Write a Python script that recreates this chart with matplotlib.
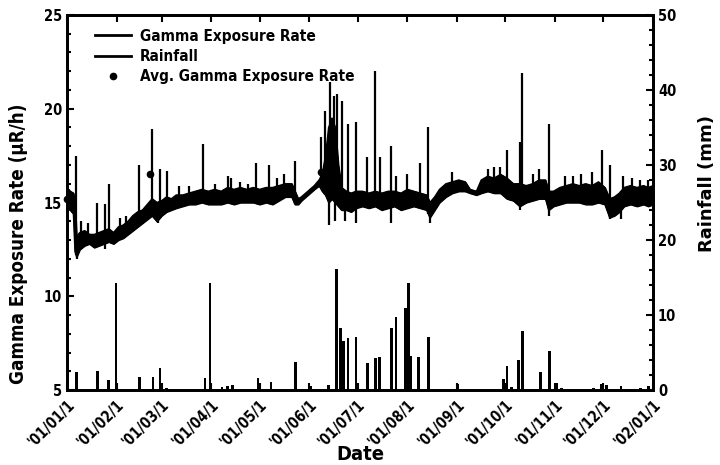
import matplotlib
matplotlib.use('Agg')
import matplotlib.pyplot as plt
from matplotlib.lines import Line2D
from matplotlib.ticker import MultipleLocator
import numpy as np
import pandas as pd

plt.rcParams['font.family'] = ['DejaVu Sans']
plt.rcParams['font.stretch'] = 'condensed'
plt.rcParams['font.weight'] = 'bold'

# gamma band (day of 2001, low edge, high edge) in uR/h
gamma_day = [0, 2, 4, 5, 6, 8, 11, 14, 17, 20, 23, 26, 29, 32, 35, 38, 41, 44, 47, 50,
             53, 56, 59, 62, 65, 68, 72, 76, 80, 84, 88, 92, 96, 100, 104, 108, 112, 116,
             120, 124, 128, 132, 136, 140, 142, 144, 146, 150, 154, 157, 159, 161, 163,
             165, 167, 169, 171, 174, 177, 180, 184, 188, 192, 196, 200, 204, 208, 212,
             216, 220, 224, 226, 229, 232, 236, 240, 244, 248, 251, 255, 258, 262, 266,
             270, 274, 278, 282, 286, 290, 294, 298, 300, 303, 307, 311, 315, 319, 323,
             327, 331, 335, 338, 341, 344, 347, 351, 355, 359, 362, 365]
gamma_lo = [14.7, 14.6, 14.4, 12.4, 12.1, 12.5, 12.7, 12.8, 12.6, 12.7, 12.8, 12.9, 12.8,
            13.0, 13.1, 13.3, 13.5, 13.7, 13.9, 14.1, 14.3, 14.0, 14.3, 14.5, 14.6, 14.7,
            14.8, 14.9, 14.9, 15.0, 14.9, 14.9, 14.9, 15.0, 14.9, 15.0, 15.0, 15.0, 14.9,
            15.0, 14.9, 15.1, 15.3, 15.3, 14.9, 14.9, 15.1, 15.4, 15.7, 15.9, 15.6, 15.4,
            15.0, 15.2, 15.0, 14.8, 14.6, 14.6, 14.5, 14.7, 14.8, 14.7, 14.8, 14.6, 14.7,
            14.8, 14.6, 14.7, 14.8, 14.7, 14.6, 14.2, 14.6, 15.0, 15.3, 15.5, 15.6, 15.6,
            15.5, 15.4, 15.5, 15.6, 15.5, 15.5, 15.2, 15.1, 14.8, 15.0, 15.1, 15.2, 15.2,
            14.6, 14.8, 14.9, 15.0, 15.0, 15.0, 14.9, 14.9, 15.0, 14.9, 14.2, 14.3, 14.5,
            14.8, 14.9, 14.8, 14.9, 14.8, 14.9]
gamma_hi = [15.8, 15.6, 15.5, 15.0, 13.2, 13.4, 13.5, 13.3, 13.3, 13.4, 13.5, 13.6, 13.4,
            13.7, 13.8, 14.0, 14.3, 14.5, 14.6, 14.9, 15.2, 15.0, 15.1, 15.3, 15.2, 15.4,
            15.4, 15.5, 15.6, 15.7, 15.6, 15.7, 15.6, 15.8, 15.7, 15.8, 15.7, 15.8, 15.7,
            15.8, 15.8, 15.9, 16.0, 16.0, 15.6, 15.2, 15.3, 15.6, 15.9, 16.2, 16.5, 17.5,
            19.0, 19.5, 19.0, 17.0, 15.8, 15.6, 15.5, 15.6, 15.6, 15.5, 15.6, 15.5, 15.6,
            15.6, 15.5, 15.7, 15.6, 15.5, 15.4, 15.0, 15.3, 15.7, 16.0, 16.1, 16.2, 16.1,
            15.7, 15.6, 16.2, 16.4, 16.3, 16.5, 16.3, 16.0, 16.0, 15.9, 16.0, 16.2, 16.2,
            15.6, 15.6, 15.8, 15.9, 16.0, 15.9, 16.0, 15.9, 16.1, 15.8, 15.2, 15.3, 15.5,
            15.8, 15.9, 15.8, 15.9, 15.8, 15.9]

# short peaks of the gamma record
spike_day = [5.6, 9, 13, 18.7, 24, 26, 33, 37, 45, 53, 58, 62, 70, 76, 85, 92, 100, 102,
             108, 113, 118, 126, 131, 135, 142, 158, 161, 164, 166, 168, 171, 175, 180,
             187, 192, 195, 202, 205, 212, 220, 225, 240, 262, 266, 270, 274, 282, 283.5,
             290, 294, 300, 310, 315, 320, 327, 333, 338, 346, 352, 357, 362]
spike_top = [17.5, 14.0, 13.9, 15.0, 14.9, 16.0, 14.2, 14.3, 17.0, 18.9, 16.8, 16.7, 15.9,
             15.9, 18.1, 16.0, 16.4, 16.3, 16.1, 16.0, 17.1, 17.0, 16.3, 16.5, 17.2, 18.5,
             19.9, 21.4, 20.7, 20.8, 20.4, 19.2, 19.3, 17.4, 22.0, 17.4, 18.0, 16.4, 16.5,
             17.1, 19.0, 16.6, 16.8, 16.9, 16.9, 17.8, 18.2, 21.9, 16.5, 16.8, 19.2, 16.4,
             16.4, 16.5, 16.6, 17.8, 17.0, 16.4, 16.3, 16.2, 16.2]

# short drops of the gamma record
dip_day = [6, 24, 57, 163, 167, 173, 180, 202, 226, 282, 300, 338, 345]
dip_low = [12.0, 12.5, 13.9, 13.8, 14.0, 14.0, 13.9, 13.9, 13.9, 14.6, 14.3, 14.1, 14.1]

# average gamma exposure rate points
avg_day = [0, 52, 158]
avg_val = [15.2, 16.5, 16.6]

# daily rainfall (mm)
rain_day = [6, 19, 26, 30.5, 45, 53.5, 58, 62, 86, 89, 96.5, 100, 103, 119, 127, 142.5,
            152, 163, 168, 170.5, 172, 175, 180, 187, 192, 194.5, 202, 205, 211, 212.5,
            214, 219, 225, 243.5, 272, 274, 277, 281, 283.5, 295, 300.5, 305, 308, 328,
            333, 336, 345, 357, 362]
rain_mm = [2.4, 2.5, 1.3, 14.3, 1.7, 1.7, 2.9, 0.3, 1.6, 14.3, 0.4, 0.6, 0.7, 1.6, 1.1, 3.7,
           0.6, 0.7, 16.2, 8.3, 6.5, 6.9, 7.1, 3.6, 4.3, 4.4, 8.3, 9.7, 11.0, 14.3,
           4.5, 4.4, 7.1, 0.8, 1.5, 3.2, 0.4, 4.0, 7.9, 2.4, 5.2, 0.9, 0.3, 0.3,
           0.8, 0.7, 0.6, 0.3, 0.6]

start = pd.Timestamp('2001-01-01')
def to_date(days):
    return start + pd.to_timedelta(np.asarray(days, dtype=float), unit='D')

month_ticks = pd.date_range('2001-01-01', '2002-01-01', freq='MS')
month_labels = ["'%02d/%02d/1" % (d.year % 100, d.month) for d in month_ticks]

fig = plt.figure(figsize=(7.2, 4.65), dpi=100)
ax = fig.add_axes([0.093, 0.161, 0.814, 0.807])
ax2 = ax.twinx()

gd = to_date(gamma_day)
ax.fill_between(gd, gamma_lo, gamma_hi, color='black', lw=1.0, zorder=3)
ax.plot(gd, gamma_lo, color='black', lw=1.0, zorder=3)
ax.plot(gd, gamma_hi, color='black', lw=1.0, zorder=3)
base = np.interp(spike_day, gamma_day, gamma_lo)
ax.vlines(to_date(spike_day), base, spike_top, color='black', lw=1.6, zorder=3)
top = np.interp(dip_day, gamma_day, gamma_hi)
ax.vlines(to_date(dip_day), dip_low, top, color='black', lw=1.6, zorder=3)
ax.plot(to_date(avg_day), avg_val, 'o', color='black', ms=4.5, zorder=4, clip_on=False)

ax2.bar(to_date(rain_day), rain_mm, width=1.7, color='black', zorder=2)

ax.set_xlim(month_ticks[0], month_ticks[-1])
ax.set_ylim(5, 25)
ax2.set_ylim(0, 50)

ax.set_xticks(month_ticks)
ax.set_xticklabels(month_labels, rotation=45, ha='right', rotation_mode='anchor', fontsize=10.5)
ax.yaxis.set_major_locator(MultipleLocator(5))
ax.yaxis.set_minor_locator(MultipleLocator(1))
ax2.yaxis.set_major_locator(MultipleLocator(10))
ax2.yaxis.set_minor_locator(MultipleLocator(2))
ax.tick_params(axis='both', which='both', direction='in', top=True, width=1.5, labelsize=10.5)
ax.tick_params(axis='x', labelsize=10.5, pad=5)
ax.tick_params(which='major', length=5)
ax.tick_params(which='minor', length=3)
ax2.tick_params(which='both', direction='in', width=1.5, labelsize=10.5)
ax2.tick_params(which='major', length=5)
ax2.tick_params(which='minor', length=3)

for a in (ax, ax2):
    for s in a.spines.values():
        s.set_linewidth(2)

ax.set_ylabel('Gamma Exposure Rate (\u03bcR/h)', fontsize=13.5, fontweight='bold')
ax.yaxis.set_label_coords(-0.066, 0.39)
ax2.set_ylabel('Rainfall (mm)', fontsize=13, fontweight='bold', fontstretch='normal')
ax2.yaxis.set_label_coords(1.077, 0.55)
ax.set_xlabel('Date', fontsize=14.5, fontweight='bold')
ax.xaxis.set_label_coords(0.5, -0.145)

handles = [Line2D([], [], color='black', lw=2),
           Line2D([], [], color='black', lw=2),
           Line2D([], [], color='black', marker='o', ls='none', ms=4.5)]
ax2.legend(handles, ['Gamma Exposure Rate', 'Rainfall', 'Avg. Gamma Exposure Rate'],
           loc='upper left', bbox_to_anchor=(0.025, 1.0), frameon=False,
           handlelength=2.3, handletextpad=0.6, labelspacing=0.35,
           prop={'weight': 'bold', 'size': 11})

fig.savefig('out.png', dpi=100)
